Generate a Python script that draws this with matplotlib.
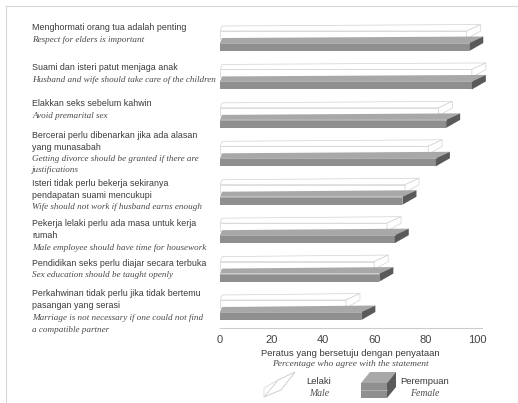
import matplotlib.pyplot as plt
from matplotlib.patches import Polygon

# data
label_ms = [
    ["Menghormati orang tua adalah penting"],
    ["Suami dan isteri patut menjaga anak"],
    ["Elakkan seks sebelum kahwin"],
    ["Bercerai perlu dibenarkan jika ada alasan", "yang munasabah"],
    ["Isteri tidak perlu bekerja sekiranya", "pendapatan suami mencukupi"],
    ["Pekerja lelaki perlu ada masa untuk kerja", "rumah"],
    ["Pendidikan seks perlu diajar secara terbuka"],
    ["Perkahwinan tidak perlu jika tidak bertemu", "pasangan yang serasi"],
]
label_en = [
    ["Respect for elders is important"],
    ["Husband and wife should take care of the children"],
    ["Avoid premarital sex"],
    ["Getting divorce should be granted if there are", "justifications"],
    ["Wife should not work if husband earns enough"],
    ["Male employee should have time for housework"],
    ["Sex education should be taught openly"],
    ["Marriage is not necessary if one could not find", "a compatible partner"],
]
lelaki = [96, 98, 85, 81, 72, 65, 60, 49]
perempuan = [97, 98, 88, 84, 71, 68, 62, 55]
xticks = [0, 20, 40, 60, 80, 100]

SANS = "Liberation Sans"
SERIF = "Liberation Serif"
TXT = "#3a3a3a"
TXT_EN = "#4a4a4a"
FS = 6.4

W, H = 518, 403
fig = plt.figure(figsize=(W / 100, H / 100), dpi=100)

# overlay in pixel coords for text / frame / legend
ov = fig.add_axes([0, 0, 1, 1])
ov.set_xlim(0, W)
ov.set_ylim(H, 0)
ov.axis("off")

# main axes: x 220..500 px, y 10..328 px
ax = fig.add_axes([220 / W, 1 - 328 / H, 280 / W, 318 / H])
ax.set_xlim(0, 280 / 2.57)
row0, step = 47, 38.43
ax.set_ylim(7 + (328 - (row0 + 7 * step)) / step, (10 - row0) / step)

dx = 14 / 2.57     # depth in data units (x)
dy = 5 / step      # depth in data units (y)
hh = 4 / step      # half height of front face
shift = 12 / step  # male bar sits behind, higher


def bar3d(ax, y, v, face, top, cap, edge, lw, z):
    ax.barh(y, v, height=2 * hh, left=0, color=face, edgecolor=edge, linewidth=lw, zorder=z)
    yt = y - hh
    ax.add_patch(Polygon([(0, yt), (v, yt), (v + dx, yt - dy * 1.3), (dx * 0.15, yt - dy)],
                         closed=True, facecolor=top, edgecolor=edge, linewidth=lw, zorder=z))
    ax.add_patch(Polygon([(v, y + hh), (v, yt), (v + dx, yt - dy * 1.3), (v + dx, y + hh - dy * 1.6)],
                         closed=True, facecolor=cap, edgecolor=edge, linewidth=lw, zorder=z))


for i in range(len(label_ms)):
    bar3d(ax, i - shift, lelaki[i], "white", "white", "white", "#d2d2d2", 0.5, 2 + i * 2)
    bar3d(ax, i, perempuan[i], "#8f8f8f", "#a8a8a8", "#5a5a5a", "none", 0, 3 + i * 2)
    ax.plot([0, perempuan[i]], [i - hh, i - hh], color="#bcbcbc", lw=0.5, zorder=3 + i * 2)

for s in ["top", "right", "left"]:
    ax.spines[s].set_visible(False)
ax.spines["bottom"].set_color("#cccccc")
ax.spines["bottom"].set_linewidth(0.8)
ax.spines["bottom"].set_bounds(0, 102)
ax.set_yticks([])
ax.set_xticks(xticks)
ax.tick_params(axis="x", length=0, pad=5, labelsize=8, labelcolor="#444444")
for t in ax.get_xticklabels():
    t.set_fontfamily(SANS)
ax.patch.set_alpha(0)

# left labels, one text per line
ms_y = [28, 68, 104, 135, 183, 224, 263, 294]
lh = 12
for i in range(len(label_ms)):
    y = ms_y[i]
    for line in label_ms[i]:
        ov.text(32, y, line, fontsize=FS, family=SANS, color=TXT, va="center", ha="left")
        y += lh
    for line in label_en[i]:
        ov.text(32, y, line, fontsize=FS + 0.2, family=SERIF, style="italic", color=TXT_EN,
                va="center", ha="left")
        y += lh - 0.5

# axis title
ov.text(350, 353, "Peratus yang bersetuju dengan penyataan", fontsize=FS + 0.4, family=SANS,
        color=TXT, ha="center", va="center")
ov.text(350, 364, "Percentage who agree with the statement", fontsize=FS + 0.4, family=SERIF,
        style="italic", color=TXT_EN, ha="center", va="center")

# legend
ov.add_patch(Polygon([(264, 397), (278, 380), (295, 372), (281, 390)], closed=True,
                     facecolor="white", edgecolor="#c8c8c8", lw=0.6))
ov.add_patch(Polygon([(264, 397), (264, 388), (278, 380)], closed=True,
                     facecolor="white", edgecolor="#d8d8d8", lw=0.6))
ov.text(319, 382, "Lelaki", fontsize=FS + 0.4, family=SANS, color=TXT, ha="center", va="center")
ov.text(319, 393, "Male", fontsize=FS + 0.6, family=SERIF, style="italic", color=TXT_EN,
        ha="center", va="center")
ov.add_patch(Polygon([(361, 383), (361, 398), (387, 398), (387, 383)], closed=True,
                     facecolor="#8f8f8f", edgecolor="none"))
ov.add_patch(Polygon([(361, 383), (387, 383), (396, 372), (370, 372)], closed=True,
                     facecolor="#a8a8a8", edgecolor="none"))
ov.add_patch(Polygon([(387, 383), (396, 372), (396, 387), (387, 398)], closed=True,
                     facecolor="#5a5a5a", edgecolor="none"))
ov.plot([361, 387], [390, 390], color="#bcbcbc", lw=0.5)
ov.text(425, 382, "Perempuan", fontsize=FS + 0.4, family=SANS, color=TXT, ha="center", va="center")
ov.text(425, 394, "Female", fontsize=FS + 0.6, family=SERIF, style="italic", color=TXT_EN,
        ha="center", va="center")

# page frame
ov.plot([6, W], [6, 6], color="#d8d8d8", lw=0.8)
ov.plot([6, 6], [6, H], color="#d8d8d8", lw=0.8)

fig.savefig("out.png", dpi=100)
